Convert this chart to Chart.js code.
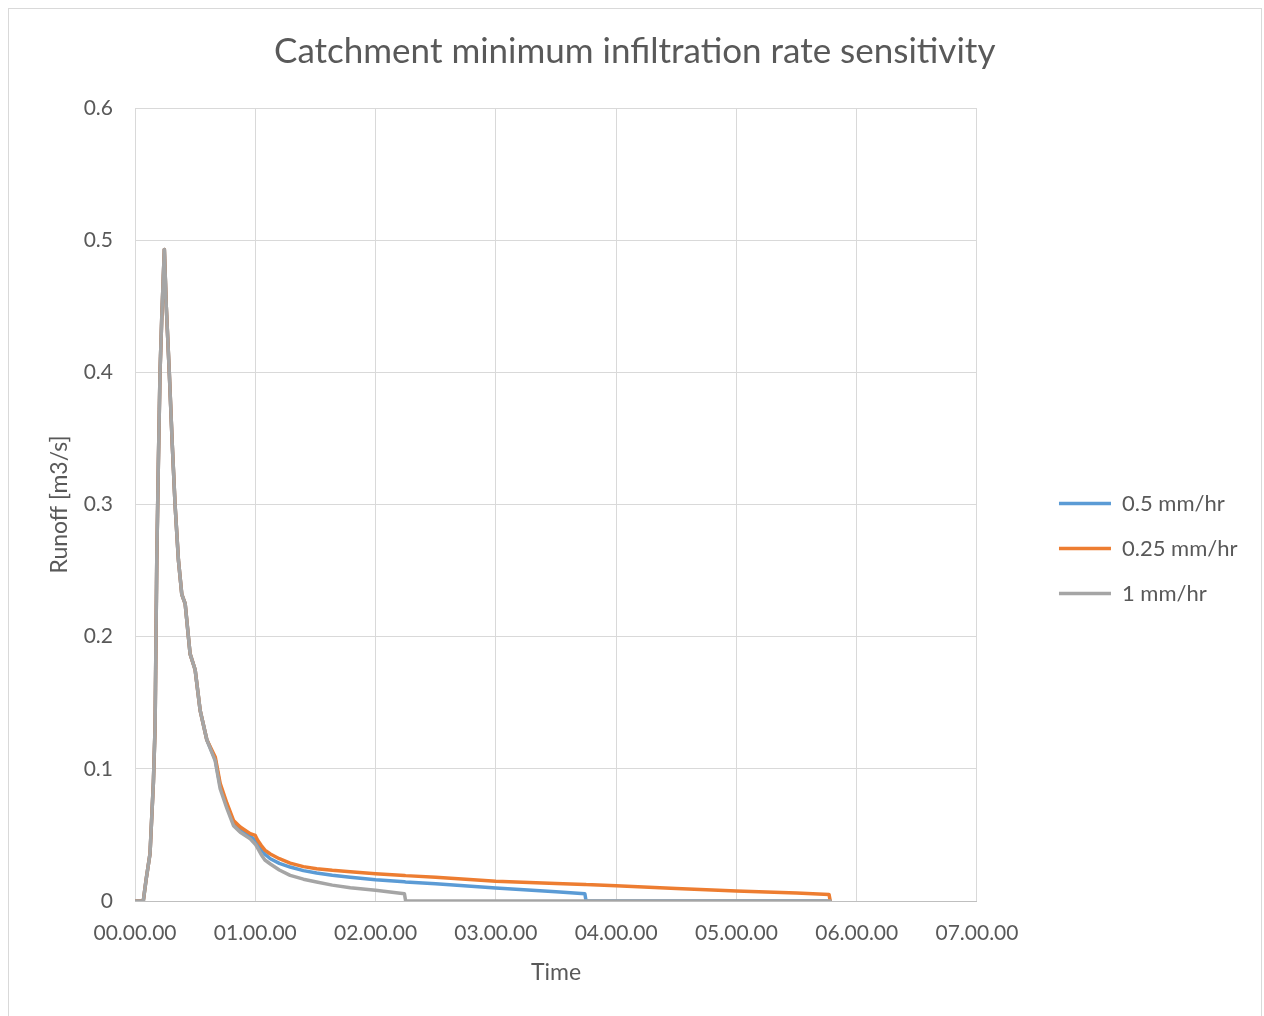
<!DOCTYPE html>
<html>
<head>
<meta charset="utf-8">
<script src="https://cdn.jsdelivr.net/npm/chart.js@4.4.1/dist/chart.umd.min.js"></script>
<style>
  html, body { margin: 0; padding: 0; background: #fff; overflow: hidden; }
  #frame { position: absolute; left: 8px; top: 8px; width: 1252px; height: 1030px; border: 1px solid #d9d9d9; }
  #wrap { position: absolute; left: 0; top: 0; width: 1252px; height: 981px; }
</style>
</head>
<body>
<div id="frame"><div id="wrap"><canvas id="runoffChart"></canvas></div></div>
<script>
// time in hours since start of event
const times = [0, 0.069, 0.092, 0.125, 0.153, 0.167, 0.181, 0.194, 0.208, 0.222,
  0.244, 0.26, 0.285, 0.31, 0.333, 0.361, 0.389, 0.417, 0.458, 0.5,
  0.542, 0.597, 0.667, 0.708, 0.764, 0.819, 0.875, 0.958, 1.0,
  1.02, 1.05, 1.08, 1.125, 1.2, 1.29, 1.4, 1.51, 1.64, 1.79,
  2.0, 2.24, 2.25, 2.5, 3.0, 3.5, 3.74, 3.75, 4.0, 4.5,
  5.0, 5.5, 5.77, 5.78];

// runoff [m3/s] for each minimum infiltration rate
const runoff05 = [0, 0, 0.016, 0.036, 0.09, 0.132, 0.258, 0.33, 0.40, 0.44,
  0.493, 0.45, 0.40, 0.345, 0.30, 0.258, 0.232, 0.225, 0.187, 0.175,
  0.144, 0.122, 0.107, 0.087, 0.072, 0.059, 0.054, 0.049, 0.046,
  0.043, 0.039, 0.0355, 0.032, 0.0285, 0.0257, 0.023, 0.0212, 0.0195, 0.018,
  0.0161, 0.0145, 0.0144, 0.013, 0.0099, 0.007, 0.0055, 0, 0, 0,
  0, 0, 0, 0];
const runoff025 = [0, 0, 0.016, 0.036, 0.09, 0.132, 0.258, 0.33, 0.40, 0.44,
  0.493, 0.45, 0.40, 0.345, 0.30, 0.258, 0.232, 0.225, 0.187, 0.175,
  0.144, 0.122, 0.109, 0.089, 0.074, 0.061, 0.056, 0.051, 0.0496,
  0.046, 0.042, 0.0385, 0.0356, 0.032, 0.0287, 0.026, 0.0244, 0.0232, 0.0222,
  0.0207, 0.0193, 0.0192, 0.018, 0.015, 0.0133, 0.0125, 0.0124, 0.0116, 0.0095,
  0.0075, 0.006, 0.005, 0];
const runoff1 = [0, 0, 0.016, 0.036, 0.09, 0.132, 0.258, 0.33, 0.40, 0.44,
  0.493, 0.45, 0.40, 0.345, 0.30, 0.258, 0.232, 0.225, 0.187, 0.175,
  0.144, 0.122, 0.106, 0.085, 0.070, 0.057, 0.052, 0.047, 0.043,
  0.040, 0.035, 0.031, 0.028, 0.0235, 0.0194, 0.0165, 0.0144, 0.012, 0.010,
  0.0081, 0.0055, 0, 0, 0, 0, 0, 0, 0, 0,
  0, 0, 0, 0];

const seriesNames = ['0.5 mm/hr', '0.25 mm/hr', '1 mm/hr'];
const seriesColors = ['#5B9BD5', '#ED7D31', '#A5A5A5'];
const xTickLabels = ['00.00.00', '01.00.00', '02.00.00', '03.00.00',
  '04.00.00', '05.00.00', '06.00.00', '07.00.00'];

const textColor = '#595959';
const fontFamily = "Lato, 'Liberation Sans', sans-serif";

function toPoints(values) {
  return values.map((v, i) => ({ x: times[i], y: v }));
}

// move the legend away from the plot area and centre the title on the
// whole chart, where Excel puts them
const boxShift = {
  id: 'boxShift',
  afterLayout(chart) {
    const lg = chart.legend;
    if (lg) {
      lg.left += 59;
      lg.right += 59;
      lg.top += 49;
      lg.bottom += 49;
    }
    const tb = chart.titleBlock;
    if (tb) {
      tb.left += 36;
      tb.right += 36;
    }
  }
};

const allSeries = [runoff05, runoff025, runoff1];

const config = {
  type: 'line',
  data: {
    datasets: allSeries.map((vals, i) => ({
      label: seriesNames[i],
      data: toPoints(vals),
      borderColor: seriesColors[i],
      backgroundColor: seriesColors[i],
      borderWidth: 3.5,
      borderJoinStyle: 'round',
      borderCapStyle: 'round',
      pointRadius: 0,
      tension: 0,
      // last series drawn on top, like the original
      order: allSeries.length - i
    }))
  },
  options: {
    responsive: true,
    maintainAspectRatio: false,
    animation: false,
    layout: { padding: { left: 0, right: 72.5, top: 0, bottom: 0 } },
    plugins: {
      title: {
        display: true,
        text: 'Catchment minimum infiltration rate sensitivity',
        color: textColor,
        font: { family: fontFamily, size: 35, weight: 'normal', lineHeight: 1.2 },
        padding: { top: 22, bottom: 35 }
      },
      legend: {
        position: 'right',
        labels: {
          color: textColor,
          font: { family: fontFamily, size: 22 },
          usePointStyle: true,
          pointStyle: 'line',
          pointStyleWidth: 52,
          padding: 23,
          sort: (a, b) => a.datasetIndex - b.datasetIndex
        }
      },
      tooltip: { enabled: false }
    },
    scales: {
      x: {
        type: 'linear',
        min: 0,
        max: 7,
        afterFit: (axis) => { axis.height = 89; },
        ticks: {
          stepSize: 1,
          color: textColor,
          font: { family: fontFamily, size: 21 },
          padding: 19.4,
          maxRotation: 0,
          autoSkip: false,
          callback: (v) => xTickLabels[Math.round(v)]
        },
        grid: { color: '#d9d9d9', drawTicks: false },
        border: { color: '#bfbfbf', width: 1 },
        title: {
          display: true,
          text: 'Time',
          color: textColor,
          font: { family: fontFamily, size: 23, lineHeight: 1.2 },
          padding: { top: 6, bottom: 4 }
        }
      },
      y: {
        min: 0,
        max: 0.6,
        afterFit: (axis) => { axis.width = 126; },
        ticks: {
          stepSize: 0.1,
          color: textColor,
          font: { family: fontFamily, size: 21 },
          padding: 22
        },
        grid: { color: '#d9d9d9', drawTicks: false },
        border: { display: false },
        title: {
          display: true,
          text: 'Runoff [m3/s]',
          color: textColor,
          font: { family: fontFamily, size: 23, lineHeight: 1.2 },
          padding: { top: 37.2, bottom: 10 }
        }
      }
    }
  },
  plugins: [boxShift]
};

const runoffChart = new Chart(document.getElementById('runoffChart'), config);
</script>
</body>
</html>
